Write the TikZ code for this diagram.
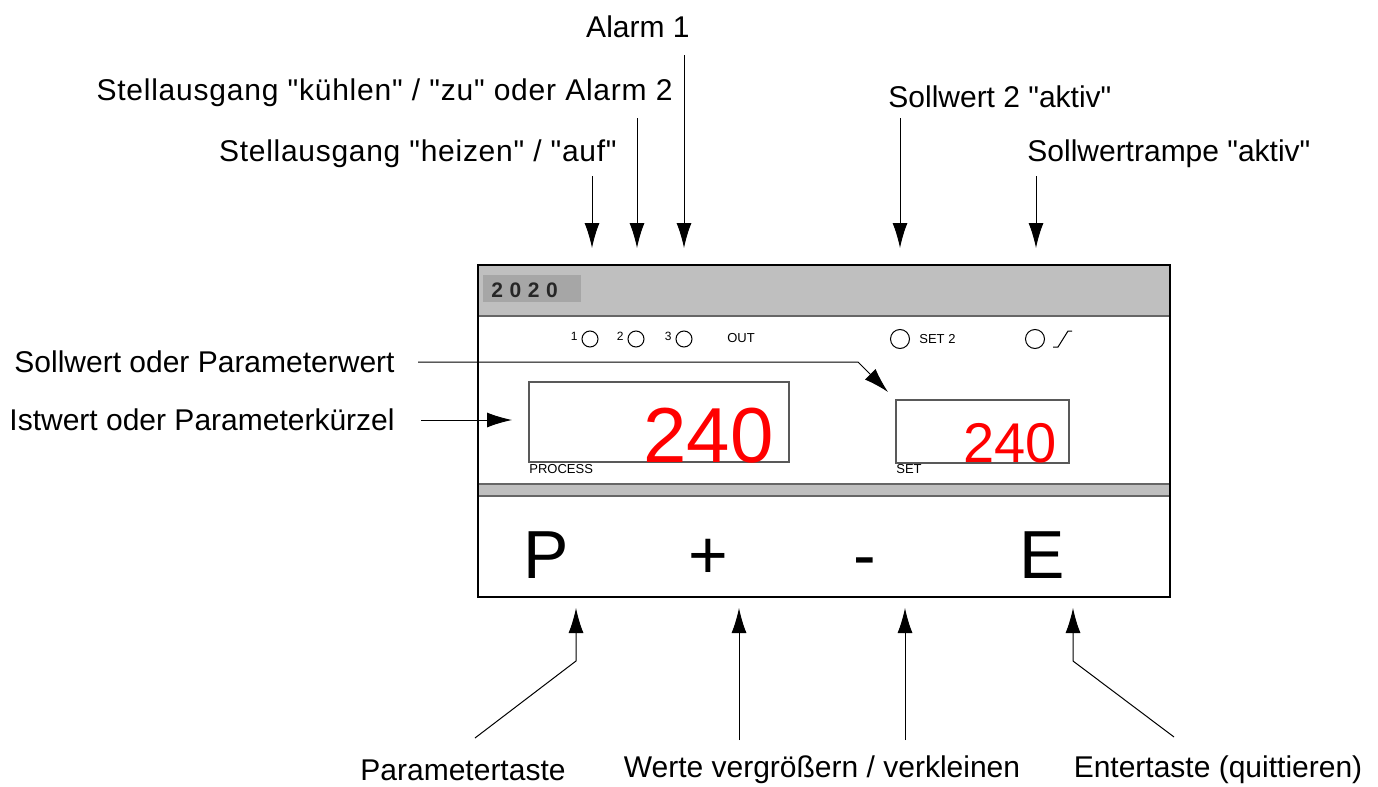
\documentclass[tikz,border=0pt]{standalone}
\usepackage{fontspec}
\setmainfont{Liberation Sans}[Ligatures=TeXOff]
\usetikzlibrary{positioning,arrows.meta}

\tikzset{
    lbl/.style={font=\fontsize{15}{18}\selectfont, inner sep=0pt},
    wide/.style={font=\fontsize{15}{18}\selectfont\addfontfeature{LetterSpace=#1}},
    arr/.style={-{Latex[length=12.5pt,width=7.5pt]}, line width=0.5pt},
    tiny/.style={font=\fontsize{6.5}{8}\selectfont, inner sep=0pt},
    led/.style={circle, draw, line width=0.5pt, inner sep=0pt, minimum size=#1},
    key/.style={font=\fontsize{34}{40}\selectfont, inner sep=0pt, anchor=base},
    display/.style={draw=black!65, line width=0.6pt, inner sep=0pt},
}

\begin{document}
\begin{tikzpicture}[x=0.5pt,y=-0.5pt]
\useasboundingbox (0,0) rectangle (1378,787);

% housing
\fill[black!25] (478,265) rectangle (1170,316);
\fill[black!25] (478,484) rectangle (1170,496);
\draw[black!60, line width=1.2pt] (478,316) -- (1170,316);
\draw[black!60, line width=0.8pt] (478,484) -- (1170,484) (478,496) -- (1170,496);
\draw[line width=1pt] (478,265) rectangle (1170,597);

\node[fill=black!35, anchor=north west, minimum width=49pt, minimum height=13.5pt, inner sep=0pt] (modelbox) at (483,275) {};
\node[anchor=base west, inner sep=0pt, text=black!85, font=\fontsize{10.5}{12}\selectfont\bfseries] (model) at (491,297) {2\hspace{3.3pt}0\hspace{3.3pt}2\hspace{3.3pt}0};

% LEDs
\foreach \n/\x in {1/590, 2/636, 3/684} {
    \node[led=8pt] (led\n) at (\x,339) {};
    \node[anchor=base east, inner sep=0pt, font=\fontsize{6}{7}\selectfont] (num\n) at (\x-12,340) {\n};
}
\node[tiny] (out) at (741,338) {OUT};
\node[led=9.5pt] (ledset) at (900,339) {};
\node[tiny, anchor=west] (settwo) at (919,339) {SET 2};
\node[led=9.5pt] (ledramp) at (1035,339) {};
\draw[line width=0.5pt] (1053,347) -- (1058,347) -- (1068,331) -- (1072,331);

% displays
\node[display, minimum width=130pt, minimum height=40pt] (process) at (659,422) {};
\node[display, minimum width=86.5pt, minimum height=31.5pt] (set) at (982.5,431.5) {};
\node[anchor=base east, inner sep=0pt, text=red, font=\fontsize{39}{44}\selectfont] (pv) at (774,462) {240};
\node[anchor=base east, inner sep=0pt, text=red, font=\fontsize{28}{32}\selectfont] (sv) at (1057,462) {240};
\node[tiny, anchor=base west] (proclbl) at (529,473) {PROCESS};
\node[tiny, anchor=base west] (setlbl) at (896,473) {SET};

% keys
\node[key] (P) at (546,578) {P};
\node[key] (plus) at (708,578) {+};
\node[key] (minus) at (865,578) {-};
\node[key] (E) at (1042,578) {E};

% labels
\node[lbl, anchor=east] (alarmA) at (690,27) {Alarm 1};
\node[lbl, wide=2.6, anchor=east] (kuehlen) at (673,93) {Stellausgang "kühlen" / "zu" oder Alarm 2};
\node[lbl, wide=2.4, anchor=east] (heizen) at (617,154) {Stellausgang "heizen" / "auf"};
\node[lbl, anchor=west] (solltwo) at (888,97) {Sollwert 2 "aktiv"};
\node[lbl, anchor=west] (rampe) at (1027,154) {Sollwertrampe "aktiv"};
\node[lbl, anchor=east] (sollwert) at (395,362) {Sollwert oder Parameterwert};
\node[lbl, anchor=east] (istwert) at (395,420) {Istwert oder Parameterkürzel};
\node[lbl] (ptaste) at (463,770) {Parametertaste};
\node[lbl] (werte) at (822,770) {Werte vergrößern / verkleinen};
\node[lbl] (etaste) at (1218,770) {Entertaste (quittieren)};

\foreach \name/\x/\y in {heiz/592/176, kuehl/637/118, alarm/684/55, soll/900/118, ramp/1036/176} {
    \coordinate (\name top) at (\x,\y);
    \coordinate (\name tip) at (\x,248);
    \draw[arr] (\name top) -- (\name tip);
}

\coordinate (svstart) at (418,362);
\coordinate (svbend) at (858,362);
\coordinate (svtip) at (888,392);
\draw[arr] (svstart) -- (svbend) -- (svtip);

\coordinate (pvstart) at (421,420);
\coordinate (pvtip) at (512,420);
\draw[arr] (pvstart) -- (pvtip);

\coordinate (pfoot) at (475,738);
\coordinate (pbend) at (576,661);
\coordinate (ptip) at (576,608);
\draw[arr] (pfoot) -- (pbend) -- (ptip);

\coordinate (plusfoot) at (739,740);
\coordinate (plustip) at (739,608);
\draw[arr] (plusfoot) -- (plustip);

\coordinate (minusfoot) at (905,740);
\coordinate (minustip) at (905,608);
\draw[arr] (minusfoot) -- (minustip);

\coordinate (efoot) at (1174,737);
\coordinate (ebend) at (1073,661);
\coordinate (etip) at (1073,608);
\draw[arr] (efoot) -- (ebend) -- (etip);

\end{tikzpicture}
\end{document}
